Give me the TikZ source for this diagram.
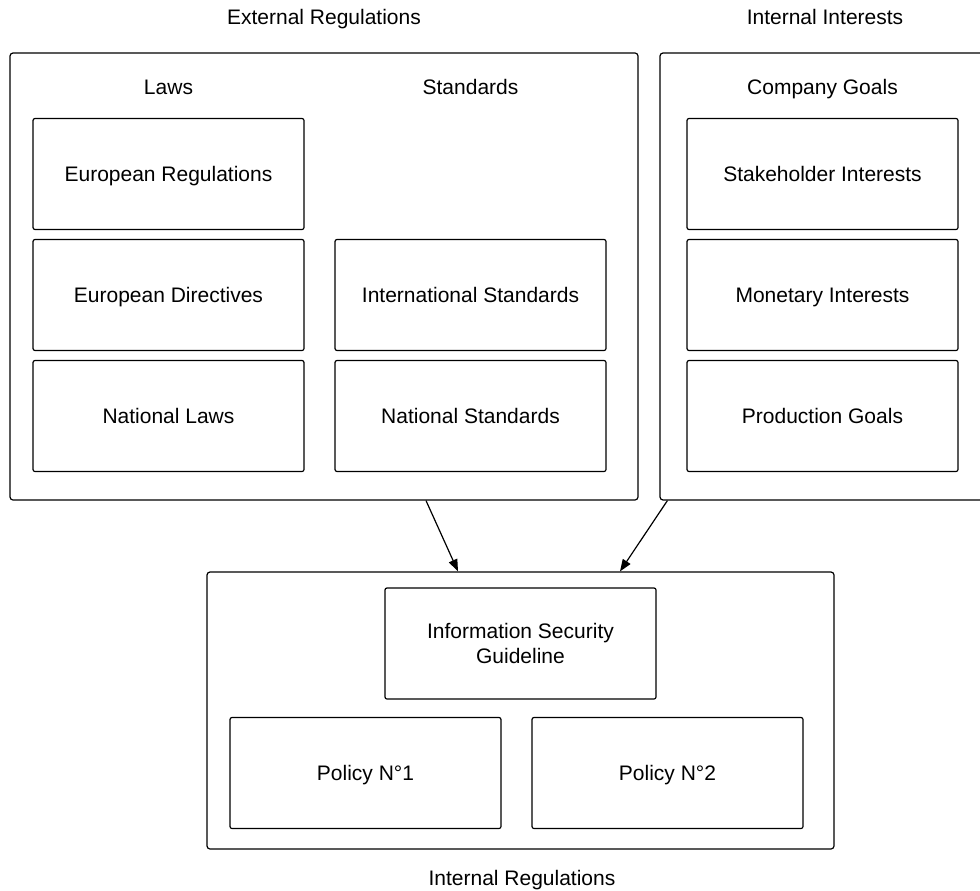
\documentclass[tikz,border=0pt]{standalone}
\usepackage{fontspec}
\setmainfont{Liberation Sans}
\usetikzlibrary{arrows.meta,positioning}

\begin{document}
\begin{tikzpicture}[x=1pt, y=-1pt, >={Triangle[length=12pt,width=9pt]}, line width=1.2pt,
		every node/.style={font=\fontsize{21}{25}\selectfont, text depth=0pt},
		item/.style={draw, rounded corners=2pt, minimum width=271pt, minimum height=111pt, align=center, inner sep=0pt},
		frame/.style={draw, rounded corners=3pt, inner sep=0pt}]
	\useasboundingbox (0,0) rectangle (980,891);
	\clip (0,0) rectangle (980,891);
	
	% === External Regulations ===
	\node (extreg) at (324,17) {External Regulations};
	\node[frame, minimum width=628pt, minimum height=447pt] (ext) at (324,276.5) {};
	\node (laws) at (168.5,87) {Laws};
	\node (stds) at (470.5,87) {Standards};
	\node[item] (eureg) at (168.5,174) {European Regulations};
	\node[item] (eudir) at (168.5,295) {European Directives};
	\node[item] (natlaws) at (168.5,416) {National Laws};
	\node[item] (intstd) at (470.5,295) {International Standards};
	\node[item] (natstd) at (470.5,416) {National Standards};
	
	% === Internal Interests ===
	\node (intint) at (825,17) {Internal Interests};
	\node[frame, minimum width=330pt, minimum height=447pt] (int) at (825,276.5) {};
	\node (goals) at (822.5,87) {Company Goals};
	\node[item] (stake) at (822.5,174) {Stakeholder Interests};
	\node[item] (money) at (822.5,295) {Monetary Interests};
	\node[item] (prod) at (822.5,416) {Production Goals};
	
	% === Internal Regulations ===
	\node[frame, minimum width=627pt, minimum height=277pt] (intreg) at (520.5,710.5) {};
	\node[item] (isg) at (520.5,643.5) {Information Security\\Guideline};
	\node[item] (pol1) at (365.5,773) {Policy N°1};
	\node[item] (pol2) at (667.5,773) {Policy N°2};
	\node (intregl) at (522,878) {Internal Regulations};
	
	% Pfeile
	\draw[->] ([xshift=102pt]ext.south) -- ([xshift=-62.5pt]intreg.north);
	\draw[->] ([xshift=8pt]int.south west) -- ([xshift=99.5pt]intreg.north);
\end{tikzpicture}
\end{document}
